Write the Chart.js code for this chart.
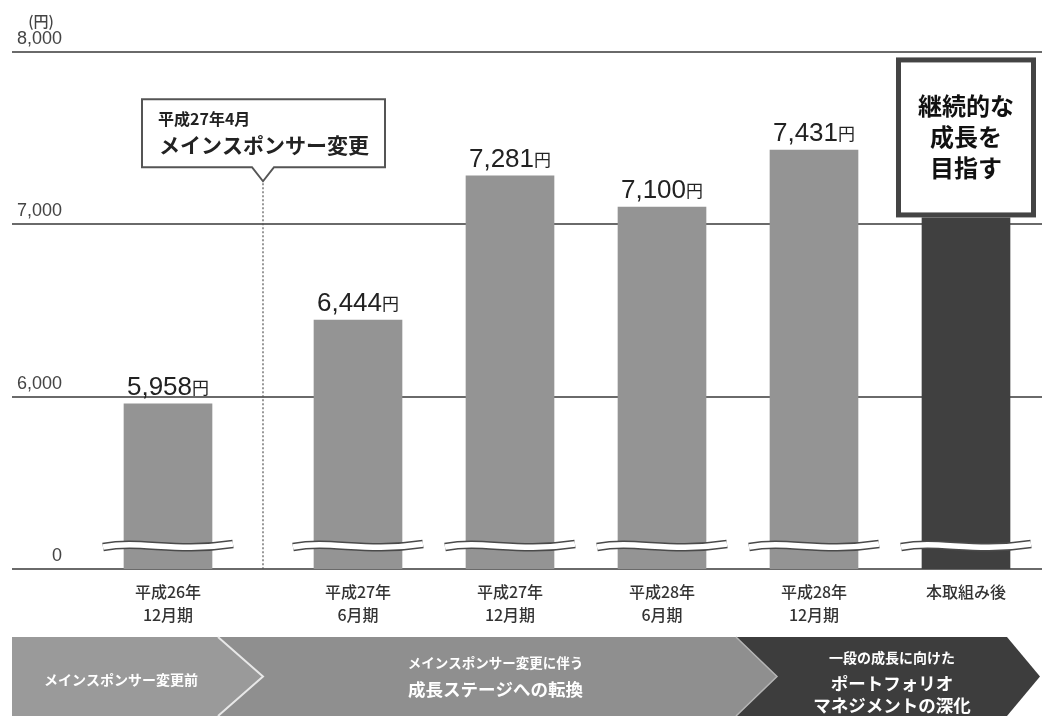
<!DOCTYPE html>
<html><head><meta charset="utf-8">
<script src="https://cdn.jsdelivr.net/npm/chart.js@4"></script>
<style>html,body{margin:0;padding:0;background:#fff;}#wrap{width:1042px;height:716px;position:relative;}</style>
</head><body><div id="wrap"><canvas id="c" width="1042" height="716"></canvas></div>
<script>
// ---- data ----
const categories = [['平成26年','12月期'],['平成27年','6月期'],['平成27年','12月期'],['平成28年','6月期'],['平成28年','12月期'],['本取組み後']];
const values = [5958, 6444, 7281, 7100, 7431, 7040]; // last bar: target (no printed value, height estimated)
const valueLabels = ['5,958','6,444','7,281','7,100','7,431', null];
const valueUnit = '円';
const yTicks = [5000, 6000, 7000, 8000];          // axis is broken: bottom line stands for 0
const yTickLabels = ['0','6,000','7,000','8,000'];
const unitLabel = '(円)';
const goalText = ['継続的な','成長を','目指す'];
const eventText = ['平成27年4月','メインスポンサー変更'];
const phase1 = ['メインスポンサー変更前'];
const phase2 = ['メインスポンサー変更に伴う','成長ステージへの転換'];
const phase3 = ['一段の成長に向けた','ポートフォリオ','マネジメントの深化'];

// ---- layout ----
const leadGap = 0.25; // extra room after the first bar for the callout
const slot = i => i === 0 ? 0 : i + leadGap;
const JP = '"Noto Sans CJK JP", sans-serif';
const NUM = '"Liberation Sans", Arial, sans-serif';

const deco = {
  id: 'deco',
  afterDatasetsDraw(chart) {
    const {ctx, scales: {x, y}} = chart;
    const meta = chart.getDatasetMeta(0);
    const base = y.getPixelForValue(yTicks[0]);
    ctx.save();
    // break marks
    meta.data.forEach(bar => {
      const w = 130, x0 = bar.x - w / 2, x1 = bar.x + w / 2, yc = base - 23;
      const wave = () => {
        ctx.beginPath();
        ctx.moveTo(x0, yc + 1);
        ctx.bezierCurveTo(x0 + w * 0.3, yc - 6, x0 + w * 0.55, yc + 7, x1, yc - 2);
      };
      ctx.lineCap = 'butt';
      wave(); ctx.strokeStyle = '#4a4a4a'; ctx.lineWidth = 8.5; ctx.stroke();
      wave(); ctx.strokeStyle = '#fff'; ctx.lineWidth = 5.5; ctx.stroke();
    });
    ctx.restore();
  },
  afterDraw(chart) {
    const {ctx, scales: {x, y}} = chart;
    const meta = chart.getDatasetMeta(0);
    const base = y.getPixelForValue(yTicks[0]);
    ctx.save();
    // y tick labels
    ctx.fillStyle = '#444';
    ctx.textAlign = 'right';
    ctx.textBaseline = 'alphabetic';
    ctx.font = '18px ' + NUM;
    yTicks.forEach((t, i) => ctx.fillText(yTickLabels[i], 62, y.getPixelForValue(t) - 8));
    ctx.textAlign = 'center';
    ctx.textBaseline = 'middle';
    ctx.font = '500 15px ' + JP;
    ctx.fillText(unitLabel, 41, y.getPixelForValue(yTicks[yTicks.length - 1]) - 31);

    // value labels
    meta.data.forEach((bar, i) => {
      if (!valueLabels[i]) return;
      ctx.textBaseline = 'alphabetic';
      ctx.textAlign = 'left';
      ctx.font = '26px ' + NUM;
      const w1 = ctx.measureText(valueLabels[i]).width;
      ctx.font = '17px ' + JP;
      const w2 = ctx.measureText(valueUnit).width;
      const sx = bar.x - (w1 + w2) / 2;
      ctx.fillStyle = '#222';
      ctx.font = '26px ' + NUM;
      ctx.fillText(valueLabels[i], sx, bar.y - 9);
      ctx.font = '17px ' + JP;
      ctx.fillText(valueUnit, sx + w1, bar.y - 10);
    });

    // category labels
    ctx.fillStyle = '#333';
    ctx.textAlign = 'center';
    ctx.textBaseline = 'middle';
    ctx.font = '500 16px ' + JP;
    meta.data.forEach((bar, i) => {
      categories[i].forEach((line, k) => ctx.fillText(line, bar.x, base + 23 + k * 23));
    });

    // goal box on last bar
    const last = meta.data[meta.data.length - 1];
    const bw = 140, bh = 160;
    ctx.fillStyle = '#fff';
    ctx.fillRect(last.x - bw / 2, last.y - bh, bw, bh);
    ctx.strokeStyle = '#444';
    ctx.lineWidth = 5;
    ctx.strokeRect(last.x - bw / 2 + 2.5, last.y - bh + 2.5, bw - 5, bh - 5);
    ctx.fillStyle = '#111';
    ctx.font = 'bold 24px ' + JP;
    goalText.forEach((line, k) => ctx.fillText(line, last.x, last.y - bh + 48 + k * 31));

    // event callout + dotted line between first two bars
    const tipX = (meta.data[0].x + meta.data[1].x) / 2;
    const tipY = y.getPixelForValue(7250);
    ctx.strokeStyle = '#555';
    ctx.lineWidth = 1.2;
    ctx.setLineDash([2, 2]);
    ctx.beginPath(); ctx.moveTo(tipX, tipY + 2); ctx.lineTo(tipX, base); ctx.stroke();
    ctx.setLineDash([]);
    const L = tipX - 121, R = tipX + 122, T = tipY - 82, B = tipY - 14;
    ctx.beginPath();
    ctx.moveTo(L, T); ctx.lineTo(R, T); ctx.lineTo(R, B);
    ctx.lineTo(tipX + 11, B); ctx.lineTo(tipX, tipY); ctx.lineTo(tipX - 11, B);
    ctx.lineTo(L, B); ctx.closePath();
    ctx.fillStyle = '#fff'; ctx.fill();
    ctx.lineWidth = 2; ctx.strokeStyle = '#555'; ctx.stroke();
    ctx.fillStyle = '#222';
    ctx.textAlign = 'left';
    ctx.font = 'bold 16px ' + JP;
    ctx.fillText(eventText[0], L + 16, T + 20);
    ctx.font = 'bold 21px ' + JP;
    ctx.fillText(eventText[1], L + 17, T + 46);

    // phase banner
    const top = 637, bot = 716, mid = (top + bot) / 2, left = 12;
    const s1t = tipX, s1b = tipX - 45;
    const s2b = (meta.data[3].x + meta.data[4].x) / 2 - 2, s2t = s2b + 41;
    const rEnd = 1040, rCorner = rEnd - 33;
    ctx.fillStyle = '#3d3d3d';
    ctx.beginPath();
    ctx.moveTo(s2b - 5, top); ctx.lineTo(rCorner, top); ctx.lineTo(rEnd, mid); ctx.lineTo(rCorner, bot); ctx.lineTo(s2b - 5, bot); ctx.closePath(); ctx.fill();
    ctx.fillStyle = '#8f8f8f';
    ctx.beginPath();
    ctx.moveTo(s1b - 5, top); ctx.lineTo(s2b, top); ctx.lineTo(s2t, mid); ctx.lineTo(s2b, bot); ctx.lineTo(s1b - 5, bot); ctx.closePath(); ctx.fill();
    ctx.strokeStyle = '#b5b5b5'; ctx.lineWidth = 1.5;
    ctx.beginPath(); ctx.moveTo(s2b, top); ctx.lineTo(s2t, mid); ctx.lineTo(s2b, bot); ctx.stroke();
    ctx.fillStyle = '#9a9a9a';
    ctx.beginPath();
    ctx.moveTo(left, top); ctx.lineTo(s1b, top); ctx.lineTo(s1t, mid); ctx.lineTo(s1b, bot); ctx.lineTo(left, bot); ctx.closePath(); ctx.fill();
    ctx.strokeStyle = '#e8e8e8'; ctx.lineWidth = 2;
    ctx.beginPath(); ctx.moveTo(s1b, top); ctx.lineTo(s1t, mid); ctx.lineTo(s1b, bot); ctx.stroke();

    ctx.fillStyle = '#fff';
    ctx.textAlign = 'center';
    ctx.textBaseline = 'middle';
    ctx.font = 'bold 14px ' + JP;
    ctx.fillText(phase1[0], (left + s1b) / 2 + 6, 680);
    const c2 = (s1t + s2b) / 2 - 4;
    ctx.font = 'bold 13.5px ' + JP;
    ctx.fillText(phase2[0], c2, 663);
    ctx.font = 'bold 17.5px ' + JP;
    ctx.fillText(phase2[1], c2, 689);
    const c3 = (s2t + rCorner) / 2;
    ctx.font = 'bold 14px ' + JP;
    ctx.fillText(phase3[0], c3, 658);
    ctx.font = 'bold 17.5px ' + JP;
    ctx.fillText(phase3[1], c3, 683);
    ctx.fillText(phase3[2], c3, 705);
    ctx.restore();
  }
};

new Chart(document.getElementById('c'), {
  type: 'bar',
  data: {
    datasets: [{
      data: values.map((v, i) => ({x: slot(i), y: v})),
      backgroundColor: values.map((v, i) => i === values.length - 1 ? '#404040' : '#949494'),
      barThickness: 88,
      borderWidth: 0
    }]
  },
  options: {
    responsive: false,
    animation: false,
    devicePixelRatio: 1,
    layout: {padding: {left: 12, right: 0, top: 52, bottom: 147}},
    plugins: {legend: {display: false}, tooltip: {enabled: false}},
    scales: {
      x: {type: 'linear', min: -1.0263, max: 5.75, offset: false, display: false, grid: {offset: false}},
      y: {
        min: 5000, max: 8000,
        ticks: {display: false, stepSize: 1000},
        grid: {color: '#6a6a6a', lineWidth: 2, drawTicks: false},
        border: {display: false}
      }
    }
  },
  plugins: [deco]
});
</script>
</body></html>
